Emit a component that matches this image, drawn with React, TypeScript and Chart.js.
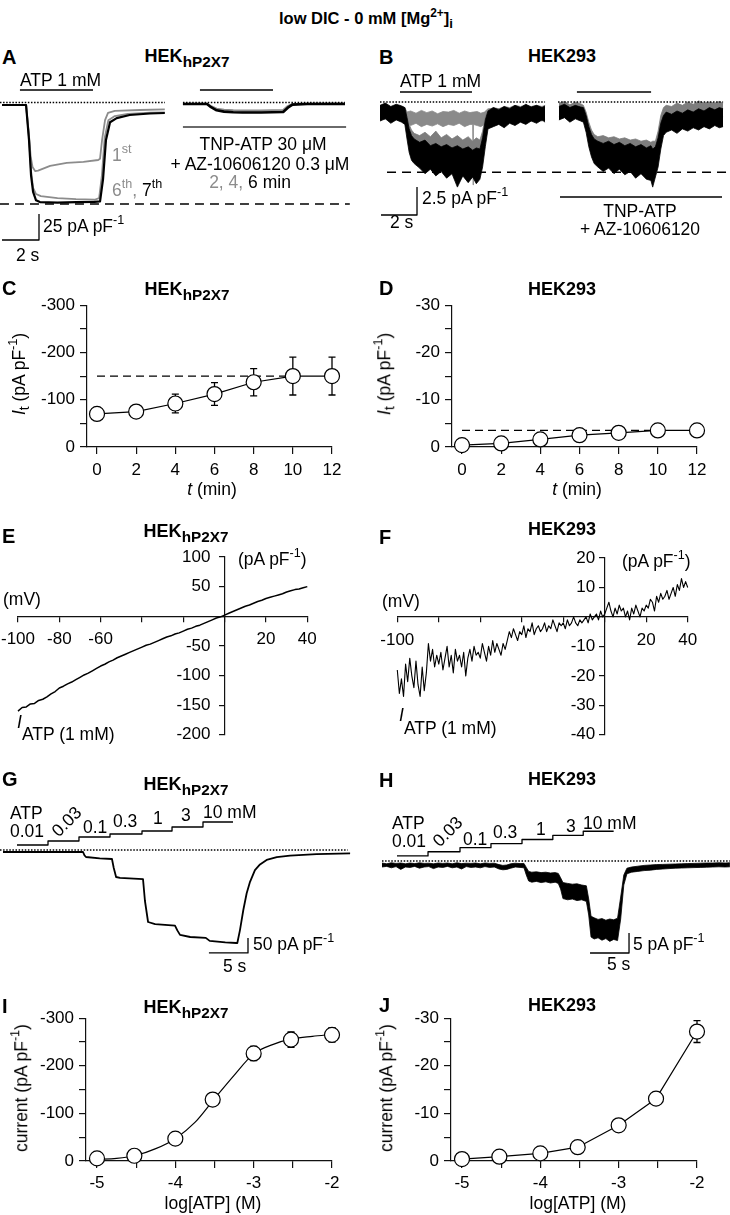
import React, { useEffect, useRef } from "react";
import { Chart, registerables } from "chart.js";

Chart.register(...registerables);
const FONT = "'Liberation Sans', Arial, Helvetica, sans-serif";
Chart.defaults.font.family = FONT;
const GRAY = "#8c8c8c";
const INK = "#111";

// ================= DATA =================
// Panel A (HEK-hP2X7): time (s), current (pA/pF)
const aT1 = [0, 1.3, 1.45, 1.55, 1.65, 1.8, 1.95, 2.6, 3.5, 4.4, 5.2, 5.3, 5.41, 5.57, 5.73, 6.1, 7.46, 8.8];
const aI1 = [-2.4, -2.4, -30, -52, -62, -66, -65.5, -61, -58, -57, -55.3, -54, -36, -17, -10, -8, -7.2, -6.7];
const aT6 = [0, 1.3, 1.46, 1.57, 1.68, 1.84, 2.1, 3.0, 4.0, 5.0, 5.25, 5.4, 5.55, 5.75, 6.1, 6.8, 8.0, 8.8];
const aI6 = [-2.4, -2.4, -34, -66, -82, -88, -90, -92, -93, -93.5, -92, -70, -34, -17, -13, -11, -9.8, -9.4];
const aT7 = [0, 1.3, 1.46, 1.57, 1.68, 1.84, 2.05, 3.0, 4.0, 5.0, 5.3, 5.46, 5.62, 5.84, 6.2, 6.9, 8.0, 8.8];
const aI7 = [-2.4, -2.4, -36, -70, -86, -94, -95.7, -96.2, -95.8, -95.6, -95, -74, -36, -19, -15, -12, -10.6, -10.1];
const aTB = [9.78, 11.08, 11.3, 11.6, 12.0, 12.5, 13.0, 14.0, 15.2, 15.45, 15.7, 16.5, 18.54];
const aIBgray = [-1.2, -1.2, -3.5, -6, -7, -7.5, -7.8, -7.8, -7.2, -3.5, -1.5, -1.2, -1.1];
const aIBblack = [-1.4, -1.4, -4.5, -7.5, -8.8, -9.4, -9.6, -9.6, -9.2, -5, -2, -1.5, -1.4];
const aAtp = [0.97, 4.92];
const aAtp2 = [10.7, 14.65];
const aBarLevel = 12;
const aTnp = [9.78, 18.6];
const aTnpLevel = -23.6;
const aZero1 = [-0.11, 8.81];
const aZero2 = [9.78, 18.54];
const aMaxT = [-0.11, 18.8];
const aMaxI = -97.6;
const aScaleT = [0, 2];
const aScaleI = [-132.2, -107.2];

// Panel B (HEK293): noisy traces as envelopes (upper / lower)
const bT1 = [0, 0.3, 0.6, 0.9, 1.2, 1.38, 1.5, 1.62, 1.75, 1.9, 2.2, 2.5, 2.8, 3.1, 3.4, 3.7, 4.0, 4.3, 4.6, 4.9, 5.15, 5.35, 5.55, 5.7, 5.85, 6.0, 6.3, 6.6, 6.9, 7.2, 7.5, 7.8, 8.1, 8.4, 8.7, 9.0, 9.17];
const bU1 = [-0.3, -0.1, -0.4, -0.2, -0.35, -0.5, -1.4, -2.4, -3.0, -3.3, -3.6, -3.4, -3.9, -3.7, -4.0, -3.8, -4.1, -3.9, -4.2, -4.0, -4.3, -4.1, -4.2, -3.2, -1.6, -0.8, -0.5, -0.7, -0.4, -0.6, -0.3, -0.5, -0.2, -0.45, -0.3, -0.5, -0.35];
const bL1 = [-1.7, -1.5, -1.9, -1.6, -1.8, -2.0, -3.3, -4.5, -5.2, -5.5, -5.9, -6.4, -6.0, -6.6, -6.2, -6.8, -6.4, -7.6, -6.6, -7.2, -6.7, -7.3, -6.9, -5.8, -4.0, -2.4, -2.2, -2.0, -2.3, -1.9, -2.1, -1.8, -2.0, -1.7, -1.9, -1.6, -1.8];
const bGU1 = [-0.4, -0.3, -0.5, -0.3, -0.4, -0.5, -1.2, -2.0, -2.5, -2.8, -3.0, -2.7, -3.1, -2.6, -3.2, -2.9, -3.3, -3.0, -3.4, -3.1, -3.5, -3.2, -3.4, -2.6, -1.3, -0.7, -0.5, -0.6, -0.4, -0.5, -0.3, -0.4, -0.3, -0.4, -0.3, -0.4, -0.3];
const bGL1 = [-1.5, -1.4, -1.6, -1.5, -1.6, -1.7, -2.5, -3.6, -4.2, -4.5, -4.7, -4.5, -4.8, -4.6, -4.9, -4.7, -5.0, -4.8, -5.1, -4.9, -5.2, -5.0, -5.1, -4.4, -3.0, -1.9, -1.7, -1.8, -1.6, -1.7, -1.6, -1.7, -1.6, -1.7, -1.6, -1.7, -1.6];
const bFirstT = [0, 1.38, 1.5, 1.7, 2.0, 2.3, 2.6, 2.9, 3.2, 3.5, 3.8, 4.1, 4.4, 4.7, 5.0, 5.15, 5.17, 5.19, 5.4, 5.6, 5.8, 6.0, 9.17];
const bFirstU = [-0.4, -0.5, -0.9, -0.8, -1.0, -0.75, -0.95, -0.8, -1.05, -0.85, -0.9, -0.75, -1.0, -0.8, -0.95, -0.9, -0.9, -0.9, -0.85, -1.0, -0.9, -0.6, -0.5];
const bFirstL = [-1.5, -1.6, -1.9, -2.1, -1.9, -2.2, -2.0, -2.15, -1.95, -2.2, -2.0, -2.1, -1.9, -2.2, -2.0, -2.0, -7.4, -2.0, -2.1, -2.2, -2.0, -1.6, -1.5];
const bT2 = [9.94, 10.25, 10.55, 10.85, 11.15, 11.3, 11.45, 11.6, 11.75, 11.9, 12.1, 12.4, 12.7, 13.0, 13.3, 13.6, 13.9, 14.2, 14.5, 14.8, 15.05, 15.15, 15.3, 15.45, 15.6, 15.75, 15.9, 16.2, 16.5, 16.8, 17.1, 17.4, 17.7, 18.0, 18.3, 18.6, 18.85, 19.06];
const bU2 = [-0.4, -0.2, -0.5, -0.3, -0.45, -0.5, -1.2, -2.2, -2.9, -3.3, -3.5, -3.7, -3.5, -3.8, -3.6, -3.9, -3.7, -4.0, -3.8, -4.1, -3.9, -4.2, -4.0, -3.2, -1.9, -1.2, -0.9, -1.1, -0.8, -1.0, -0.7, -0.9, -0.6, -0.8, -0.5, -0.7, -0.5, -0.6];
const bL2 = [-1.6, -1.4, -1.8, -1.5, -1.7, -1.8, -2.7, -4.0, -4.9, -5.5, -5.8, -6.2, -5.9, -6.4, -6.0, -6.5, -6.2, -6.8, -6.4, -6.9, -7.0, -7.6, -6.7, -5.8, -4.2, -3.0, -2.7, -2.5, -2.8, -2.4, -2.6, -2.3, -2.5, -2.2, -2.4, -2.1, -2.3, -2.2];
const bGU2 = [-0.1, 0.05, -0.25, 0.0, -0.15, -0.3, -0.9, -1.8, -2.5, -2.9, -3.1, -3.0, -3.2, -3.1, -3.3, -3.2, -3.4, -3.3, -3.5, -3.4, -3.6, -3.5, -3.5, -2.6, -1.2, -0.5, -0.3, -0.4, -0.1, -0.3, 0.0, -0.2, 0.1, -0.1, 0.0, -0.1, 0.05, -0.1];
const bGL2 = [-1.3, -1.2, -1.4, -1.2, -1.3, -1.4, -2.2, -3.3, -4.0, -4.4, -4.6, -4.5, -4.7, -4.6, -4.8, -4.7, -4.9, -4.8, -5.0, -4.9, -5.1, -5.0, -5.0, -4.3, -2.8, -1.8, -1.5, -1.6, -1.4, -1.5, -1.3, -1.4, -1.2, -1.3, -1.2, -1.3, -1.2, -1.3];
const bZero1 = [0, 9.17];
const bZero2 = [9.89, 19.06];
const bMaxT = [0.39, 19.44];
const bMaxI = -6.28;
const bAtp = [1.11, 5.11];
const bAtp2 = [10.94, 15.06];
const bBarLevel = 0.89;
const bTnp = [10, 19];
const bTnpLevel = -8.48;
const bScaleT = [0.056, 2.056];
const bScaleI = [-10.09, -7.59];

// Panel C / D: t (min) vs It (pA/pF), mean and SEM
const cT = [0, 2, 4, 6, 8, 10, 12];
const cMean = [-70, -75, -92, -112, -137, -150, -150];
const cSem = [4, 4, 20, 24, 29, 40, 40];
const cRefT = [0, 9.8];
const cRef = -150;
const dMean = [-0.4, -0.76, -1.6, -2.5, -3.0, -3.5, -3.5];
const dSem = [0.1, 0.1, 0.2, 0.3, 0.3, 0.3, 0.3];
const dRefT = [0, 9.8];
const dRef = -3.5;
const cXTicks = [0, 2, 4, 6, 8, 10, 12];
const cYTicks = [-300, -250, -200, -150, -100, -50, 0];
const cYLabels = [-300, -200, -100, 0];
const dYTicks = [-30, -25, -20, -15, -10, -5, 0];
const dYLabels = [-30, -20, -10, 0];

// Panel E / F: I-V relations (mV, pA/pF)
const eV = [-100, -98, -96, -94, -92, -90, -88, -86, -84, -82, -80, -78, -76, -74, -72, -70, -68, -66, -64, -62, -60, -58, -56, -54, -52, -50, -48, -46, -44, -42, -40, -38, -36, -34, -32, -30, -28, -26, -24, -22, -20, -18, -16, -14, -12, -10, -8, -6, -4, -2, 0, 2, 4, 6, 8, 10, 12, 14, 16, 18, 20, 22, 24, 26, 28, 30, 32, 34, 36, 38, 40];
const eI = [-160, -154, -153, -148, -147, -142, -140, -136, -131, -127, -121, -118, -114, -111, -107, -103, -99, -96, -92, -88, -84, -81, -77, -74, -70, -67, -64, -61, -58, -55, -52, -49, -47, -44, -41, -38, -35, -33, -30, -28, -25, -22, -20, -17, -15, -12, -9, -6, -3, -1, 2, 5, 8, 11, 14, 17, 19, 22, 25, 27, 30, 32, 34, 36, 38, 41, 43, 45, 46, 48, 50];
const fV = [-100, -99, -98, -97, -96, -95, -94, -93, -92, -91, -90, -89, -88, -87, -86, -85, -84, -83, -82, -81, -80, -79, -78, -77, -76, -75, -74, -73, -72, -71, -70, -69, -68, -67, -66, -65, -64, -63, -62, -61, -60, -59, -58, -57, -56, -55, -54, -53, -52, -51, -50, -49, -48, -47, -46, -45, -44, -43, -42, -41, -40, -39, -38, -37, -36, -35, -34, -33, -32, -31, -30, -29, -28, -27, -26, -25, -24, -23, -22, -21, -20, -19, -18, -17, -16, -15, -14, -13, -12, -11, -10, -9, -8, -7, -6, -5, -4, -3, -2, -1, 0, 1, 2, 3, 4, 5, 6, 7, 8, 9, 10, 11, 12, 13, 14, 15, 16, 17, 18, 19, 20, 21, 22, 23, 24, 25, 26, 27, 28, 29, 30, 31, 32, 33, 34, 35, 36, 37, 38, 39, 40];
const fI = [
  -18, -26, -21, -27, -16, -22, -14, -20, -24, -15,
  -23, -27, -17, -25, -19, -9, -15, -11, -17, -13,
  -16, -12, -18, -14, -10, -17, -13, -19, -11, -15,
  -13, -17, -12, -20, -14, -11, -15, -10, -13, -12,
  -14, -9, -12, -15, -10, -13, -8, -12, -9, -11,
  -13, -9, -11, -8, -5, -7, -4, -6, -8, -5,
  -6, -3, -7, -4, -5, -2, -6, -4, -3, -5,
  -4, -2, -5, -3, -4, -1, -3, -5, -2, -3,
  -2, -4, -1, -3, -2, 0, -2, -3, -1, -2,
  -1, 0, -2, 1, -1, 0, 1, -1, 2, 0,
  1, 3, 5, 2, 0, 3, 1, 4, 2, 3,
  0, 2, -1, 3, 1, 4, 2, 0, 3, 2,
  4, 3, 6, 5, 2, 7, 5, 8, 6, 7,
  9, 6, 8, 10, 7, 11, 9, 13, 10, 12,
  10,
];
const eXTicks = [-100, -80, -60, -40, -20, 0, 20, 40];
const eXLabels = [-100, -80, -60, 20, 40];
const eYTicks = [-200, -150, -100, -50, 0, 50, 100];
const eYLabels = [-200, -150, -100, -50, 50, 100];
const fXLabels = [-100, 20, 40];
const fYTicks = [-40, -30, -20, -10, 0, 10, 20];
const fYLabels = [-40, -30, -20, -10, 10, 20];

// Panel G (HEK-hP2X7) concentration steps, time (s), current (pA/pF)
const gT = [0, 10.26, 10.45, 10.64, 12.4, 13.97, 14.2, 14.5, 15.0, 17.95, 18.2, 18.6, 19.5, 22.05, 22.35, 22.7, 24.0, 26.0, 26.25, 26.5, 28.5, 29.9, 30.04, 30.38, 30.81, 31.24, 31.67, 32.3, 32.95, 33.8, 35.1, 36.8, 40.2, 44.5];
const gI = [-6.7, -6.7, -18, -23.3, -28, -30, -60, -90, -93, -97, -170, -240, -247, -252, -268, -283, -290, -293, -298, -303, -308, -310, -310, -267, -200, -144, -106, -67, -48, -33, -24, -19, -14, -11];
const gStepT = [1.79, 5.77, 9.74, 13.72, 17.82, 21.67, 25.64, 29.49];
const gStepLv = [16.7, 30, 43.3, 53.3, 63.3, 76.7, 93.3];
const gZero = [-0.385, 44.2];
const gScaleT = [26.4, 31.41];
const gScaleI = [-343, -293];
const concLabels = ["0.01", "0.03", "0.1", "0.3", "1", "3", "10 mM"];

// Panel H (HEK293) noisy envelope
const hT = [0, 0.6, 1.2, 1.8, 2.4, 3.0, 3.6, 4.2, 4.8, 5.4, 6.0, 6.6, 7.2, 7.8, 8.4, 9.0, 9.6, 10.2, 10.8, 11.4, 12.0, 12.6, 13.2, 13.8, 14.4,
  15.0, 15.5, 16.0, 16.5, 17.1, 17.7, 18.2,
  18.5, 18.8, 19.2, 19.8, 20.4, 21.0, 21.6, 22.2, 22.6,
  22.9, 23.2, 23.8, 24.4, 25.0, 25.6, 26.2,
  26.5, 26.8, 27.2, 27.7, 28.2, 28.7, 29.2, 29.7, 30.2,
  30.6, 31.0, 31.4, 32.0, 32.8, 33.6, 34.4, 35.2, 36.0, 36.8, 37.6, 38.4, 39.2, 40.0, 40.8, 41.6, 42.4, 43.2, 44.0, 44.6];
const hU = [-0.5, -0.7, -0.45, -0.6, -0.5, -0.7, -0.5, -0.65, -0.45, -0.6, -0.55, -0.7, -0.5, -0.6, -0.5, -0.7, -0.45, -0.65, -0.55, -0.6, -0.5, -0.7, -0.5, -0.6, -0.55,
  -0.9, -1.1, -1.0, -0.7, -0.55, -0.65, -0.6,
  -1.6, -2.6, -2.8, -2.7, -2.9, -2.8, -3.0, -2.9, -3.1,
  -4.2, -5.4, -5.6, -5.8, -5.7, -6.0, -6.2,
  -9.5, -13.8, -14.2, -14.6, -14.4, -14.8, -14.5, -14.7, -14.3,
  -9.0, -3.5, -1.8, -1.5, -1.3, -1.1, -1.0, -0.9, -0.85, -0.8, -0.75, -0.7, -0.65, -0.6, -0.55, -0.5, -0.5, -0.45, -0.5, -0.45];
const hL = [-1.5, -1.35, -1.7, -1.4, -2.1, -1.5, -1.6, -1.35, -1.8, -1.5, -1.4, -1.9, -1.5, -1.6, -1.35, -1.7, -1.5, -2.0, -1.4, -1.6, -1.5, -1.7, -1.4, -1.6, -1.5,
  -2.0, -2.2, -2.1, -1.8, -1.5, -1.6, -1.7,
  -3.5, -5.0, -5.3, -5.1, -5.4, -5.2, -5.5, -5.3, -5.6,
  -7.0, -9.4, -9.7, -9.5, -9.9, -9.7, -10.1,
  -13.5, -19.0, -19.5, -19.2, -19.8, -19.4, -20.1, -19.6, -19.9,
  -14.5, -6.0, -3.2, -2.8, -2.6, -2.4, -2.3, -2.1, -2.0, -1.9, -1.8, -1.75, -1.7, -1.65, -1.6, -1.55, -1.5, -1.45, -1.5, -1.45];
const hStepT = [1.92, 5.9, 10.0, 13.97, 17.95, 21.9, 25.8, 29.7];
const hStepLv = [1.28, 2.31, 3.33, 4.36, 5.38, 6.41, 7.44];
const hZero = [0, 44.6];
const hScaleT = [26.67, 31.67];
const hScaleI = [-23, -18];

// Panel I / J: concentration-response, log[ATP] (M) vs current (pA/pF)
const iX = [-5, -4.523, -4, -3.523, -3, -2.523, -2];
const iMean = [-5.5, -11, -47, -129, -226, -255, -265];
const iSem = [1, 2, 4, 5, 15, 16, 15];
const iFitX = [-5, -4.75, -4.5, -4.25, -4, -3.75, -3.5, -3.25, -3, -2.75, -2.5, -2.25, -2];
const iFitY = [-3.4, -5.5, -12, -26, -47, -81, -131, -180, -225, -245, -257, -262, -266];
const jMean = [-0.4, -0.9, -1.6, -2.9, -7.5, -13.1, -27.2];
const jSem = [0.1, 0.1, 0.2, 0.2, 0.5, 0.5, 2.3];
const iXTicks = [-5, -4.5, -4, -3.5, -3, -2.5, -2];
const iXLabels = [-5, -4, -3, -2];

// ================= HELPERS =================
const xy = (xs: number[], ys: number[]) => xs.map((x, i) => ({ x, y: ys[i] }));
const hseg = (xs: number[], y: number) => [{ x: xs[0], y }, { x: xs[1], y }];
const stairs = (ts: number[], lv: number[]) => {
  const p: any[] = [];
  lv.forEach((v, i) => { p.push({ x: ts[i], y: v }, { x: ts[i + 1], y: v }); });
  return p;
};
const scaleBar = (ts: number[], is: number[]) => [{ x: ts[0], y: is[0] }, { x: ts[1], y: is[0] }, { x: ts[1], y: is[1] }];

function line(data: any[], color = "#000", width = 1.2, extra: any = {}) {
  return { data, borderColor: color, backgroundColor: color, borderWidth: width, pointRadius: 0, pointHoverRadius: 0, fill: false, tension: 0, clip: false, borderJoinStyle: "round", ...extra };
}
function band(ts: number[], up: number[], lo: number[], color: string, order: number) {
  return [
    line(xy(ts, up), color, 0.8, { order }),
    line(xy(ts, lo), color, 0.8, { order, fill: "-1", backgroundColor: color }),
  ];
}
function errBars(xs: number[], ms: number[], es: number[], cap: number) {
  const p: any[] = [];
  xs.forEach((x, i) => {
    const lo = ms[i] - es[i], hi = ms[i] + es[i];
    p.push({ x, y: lo }, { x, y: hi }, { x, y: null },
      { x: x - cap, y: lo }, { x: x + cap, y: lo }, { x, y: null },
      { x: x - cap, y: hi }, { x: x + cap, y: hi }, { x, y: null });
  });
  return p;
}
const circles = (data: any[]) => ({ data, showLine: false, pointRadius: 7.5, pointHoverRadius: 7.5, pointBackgroundColor: "#fff", pointBorderColor: "#000", pointBorderWidth: 1.2, clip: false, order: 0 });

type Rect = { left: number; top: number; width: number; height: number };
const baseOpts = { animation: false, responsive: false, maintainAspectRatio: false, events: [], plugins: { legend: { display: false }, tooltip: { enabled: false } } };

function traceConfig(r: Rect, m: { x0: number; sx: number; y0: number; sy: number }, datasets: any[]) {
  return {
    type: "line",
    data: { datasets },
    options: {
      ...baseOpts,
      layout: { padding: 0 },
      scales: {
        x: { type: "linear", display: false, min: (r.left - m.x0) / m.sx, max: (r.left + r.width - m.x0) / m.sx },
        y: { type: "linear", display: false, min: (m.y0 - r.top - r.height) / m.sy, max: (m.y0 - r.top) / m.sy },
      },
    },
  };
}

// gap: trailing non-breaking spaces to keep labels of axes crossing at zero clear of the tick marks
function ax(position: any, min: number, max: number, tickVals: number[], labelVals: number[], tickLen: number, pad: number, extra: any = {}, gap = "") {
  return {
    type: "linear", position, min, max,
    afterBuildTicks: (s: any) => { s.ticks = tickVals.map((v) => ({ value: v })); },
    ticks: { autoSkip: false, maxRotation: 0, minRotation: 0, padding: pad, color: "#000", font: { family: FONT, size: 17 },
      callback: (v: any) => (labelVals.includes(Number(v)) ? String(v) + gap : "") },
    grid: { drawOnChartArea: false, drawTicks: true, tickLength: tickLen, color: INK, lineWidth: 1.2 },
    border: { display: true, color: INK, width: 1.2 },
    ...extra,
  };
}

function plotConfig(r: Rect, area: { left: number; top: number; right: number; bottom: number }, x: any, y: any, datasets: any[]) {
  return {
    type: "line",
    data: { datasets },
    options: {
      ...baseOpts,
      layout: { padding: { left: 0, top: area.top - r.top, right: r.left + r.width - area.right, bottom: 0 } },
      scales: {
        x: { ...x, afterFit: (s: any) => { s.height = r.top + r.height - area.bottom; } },
        y: { ...y, afterFit: (s: any) => { s.width = area.left - r.left; } },
      },
    },
  };
}

function crossConfig(r: Rect, area: { left: number; top: number; right: number; bottom: number }, x: any, y: any, datasets: any[]) {
  return {
    type: "line",
    data: { datasets },
    options: {
      ...baseOpts,
      layout: { padding: { left: area.left - r.left, top: area.top - r.top, right: r.left + r.width - area.right, bottom: r.top + r.height - area.bottom } },
      scales: { x, y },
    },
  };
}

// ================= PANEL CONFIGS =================
const rA: Rect = { left: 0, top: 70, width: 360, height: 190 };
const rB: Rect = { left: 370, top: 70, width: 360, height: 180 };
const rC: Rect = { left: 0, top: 290, width: 350, height: 200 };
const rD: Rect = { left: 365, top: 290, width: 350, height: 200 };
const rE: Rect = { left: -30, top: 530, width: 375, height: 225 };
const rF: Rect = { left: 350, top: 530, width: 380, height: 225 };
const rG: Rect = { left: 0, top: 795, width: 360, height: 180 };
const rH: Rect = { left: 370, top: 800, width: 360, height: 175 };
const rI: Rect = { left: 0, top: 1003, width: 350, height: 195 };
const rJ: Rect = { left: 365, top: 1003, width: 350, height: 195 };

const NB3 = "\u00a0\u00a0\u00a0";
const NB2 = "\u00a0\u00a0";

const makeA = () => traceConfig(rA, { x0: 2, sx: 18.5, y0: 102.5, sy: 1.04 }, [
  line(scaleBar(aScaleT, aScaleI), "#000", 1.3, { order: 0 }),
  line(hseg(aAtp, aBarLevel), "#000", 1.4, { order: 0 }),
  line(hseg(aAtp2, aBarLevel), "#000", 1.4, { order: 0 }),
  line(hseg(aTnp, aTnpLevel), "#6a6a6a", 2, { order: 0 }),
  line(hseg(aZero1, 0), "#000", 1.5, { order: 0, borderDash: [1.5, 1.6], borderJoinStyle: "miter" }),
  line(hseg(aZero2, 0), "#000", 1.5, { order: 0, borderDash: [1.5, 1.6], borderJoinStyle: "miter" }),
  line(hseg(aMaxT, aMaxI), "#000", 1.5, { order: 0, borderDash: [9, 6] }),
  line(xy(aT7, aI7), "#000", 2.2, { order: 1 }),
  line(xy(aTB, aIBblack), "#000", 2.6, { order: 1 }),
  line(xy(aT6, aI6), GRAY, 1.8, { order: 2 }),
  line(xy(aTB, aIBgray), GRAY, 2.2, { order: 2 }),
  line(xy(aT1, aI1), GRAY, 1.8, { order: 2 }),
]);

const makeB = () => traceConfig(rB, { x0: 380, sx: 18, y0: 102, sy: 11.2 }, [
  line(scaleBar(bScaleT, bScaleI), "#000", 1.3, { order: 0 }),
  line(hseg(bAtp, bBarLevel), "#000", 1.4, { order: 0 }),
  line(hseg(bAtp2, bBarLevel), "#000", 1.4, { order: 0 }),
  line(hseg(bTnp, bTnpLevel), "#000", 1.3, { order: 0 }),
  line(hseg(bZero1, 0), "#000", 1.5, { order: 0, borderDash: [1.5, 1.6] }),
  line(hseg(bZero2, 0), "#000", 1.5, { order: 0, borderDash: [1.5, 1.6] }),
  line(hseg(bMaxT, bMaxI), "#000", 1.5, { order: 0, borderDash: [9, 6] }),
  ...band(bT1, bU1, bL1, "#000", 2),
  ...band(bT2, bU2, bL2, "#000", 2),
  ...band(bT1, bGU1, bGL1, "#7d7d7d", 4),
  ...band(bT2, bGU2, bGL2, "#7d7d7d", 4),
  ...band(bFirstT, bFirstU, bFirstL, "#8a8a8a", 5),
]);

const makeC = () => plotConfig(rC, { left: 87, top: 303, right: 332, bottom: 447 },
  ax("bottom", -0.511, 12, cXTicks, cXTicks, 7, 6),
  ax("left", -300, 0, cYTicks, cYLabels, 7, 5, { reverse: true }),
  [
    circles(xy(cT, cMean)),
    line(errBars(cT, cMean, cSem, 0.18), "#000", 1.3, { order: 1 }),
    line(xy(cT, cMean), "#000", 1.2, { order: 2 }),
    line(hseg(cRefT, cRef), "#000", 1.3, { order: 3, borderDash: [8, 5] }),
  ]);

const makeD = () => plotConfig(rD, { left: 452, top: 303, right: 697, bottom: 447 },
  ax("bottom", -0.511, 12, cXTicks, cXTicks, 7, 6),
  ax("left", -30, 0, dYTicks, dYLabels, 7, 5, { reverse: true }),
  [
    circles(xy(cT, dMean)),
    line(errBars(cT, dMean, dSem, 0.18), "#000", 1.3, { order: 1 }),
    line(xy(cT, dMean), "#000", 1.2, { order: 2 }),
    line(hseg(dRefT, dRef), "#000", 1.3, { order: 3, borderDash: [8, 5] }),
  ]);

const makeE = () => crossConfig(rE, { left: 18, top: 557, right: 307.3, bottom: 738.5 },
  ax({ y: 0 }, -100, 40, eXTicks, eXLabels, 5, 8),
  ax({ x: 0 }, -200, 100, eYTicks, eYLabels, 5, 10, {}, NB3),
  [line(xy(eV, eI), "#000", 1.5)]);

const makeF = () => crossConfig(rF, { left: 397.3, top: 558, right: 687.7, bottom: 738.3 },
  ax({ y: 0 }, -100, 40, eXTicks, fXLabels, 5, 8),
  ax({ x: 0 }, -40, 20, fYTicks, fYLabels, 5, 10, {}, NB2),
  [line(xy(fV, fI), "#000", 1.1)]);

const makeG = () => traceConfig(rG, { x0: 3, sx: 7.8, y0: 850, sy: 0.3 }, [
  line(scaleBar(gScaleT, gScaleI), "#000", 1.3),
  line(stairs(gStepT, gStepLv), "#000", 1.3),
  line(hseg(gZero, 0), "#000", 1.5, { borderDash: [1.5, 1.6] }),
  line(xy(gT, gI), "#000", 1.8),
]);

const makeH = () => traceConfig(rH, { x0: 382, sx: 7.8, y0: 861, sy: 4 }, [
  line(scaleBar(hScaleT, hScaleI), "#000", 1.3, { order: 0 }),
  line(stairs(hStepT, hStepLv), "#000", 1.3, { order: 0 }),
  line(hseg(hZero, 0), "#000", 1.5, { order: 0, borderDash: [1.5, 1.6] }),
  ...band(hT, hU, hL, "#000", 2),
]);

const makeI = () => plotConfig(rI, { left: 86, top: 1015, right: 332, bottom: 1161 },
  ax("bottom", -5.1404, -2, iXTicks, iXLabels, 7, 5),
  ax("left", -300, 0, cYTicks, cYLabels, 7, 5, { reverse: true }),
  [
    circles(xy(iX, iMean)),
    line(errBars(iX, iMean, iSem, 0.045), "#000", 1.3, { order: 1 }),
    line(xy(iFitX, iFitY), "#000", 1.2, { order: 2, cubicInterpolationMode: "monotone" }),
  ]);

const makeJ = () => plotConfig(rJ, { left: 451, top: 1015, right: 697, bottom: 1161 },
  ax("bottom", -5.1404, -2, iXTicks, iXLabels, 7, 5),
  ax("left", -30, 0, dYTicks, dYLabels, 7, 5, { reverse: true }),
  [
    circles(xy(iX, jMean)),
    line(errBars(iX, jMean, jSem, 0.045), "#000", 1.3, { order: 1 }),
    line(xy(iX, jMean), "#000", 1.2, { order: 2 }),
  ]);

// ================= COMPONENTS =================
function ChartCanvas({ r, make }: { r: Rect; make: () => any }) {
  const ref = useRef<HTMLCanvasElement>(null);
  useEffect(() => {
    const c = new Chart(ref.current as HTMLCanvasElement, make());
    return () => c.destroy();
  }, []);
  return <canvas ref={ref} width={r.width} height={r.height} style={{ position: "absolute", left: r.left, top: r.top, width: r.width, height: r.height }} />;
}

const Sup = ({ children }: any) => <span style={{ fontSize: "0.72em", position: "relative", top: "-0.6em" }}>{children}</span>;
const Sub = ({ children, s = 0.8 }: any) => <span style={{ fontSize: s + "em", position: "relative", top: "0.32em" }}>{children}</span>;

function T({ x, y, a = "l", s = 17.5, b = false, c = "#000", r = 0, children }: any) {
  const tx = a === "c" ? "-50%" : a === "r" ? "-100%" : "0%";
  return (
    <div style={{ position: "absolute", left: x, top: y, transform: `translate(${tx}, -50%) rotate(${r}deg)`, fontSize: s, fontWeight: b ? 700 : 400, color: c, whiteSpace: "nowrap", lineHeight: 1, fontFamily: FONT }}>
      {children}
    </div>
  );
}

const Hek7 = ({ x, y }: any) => <T x={x} y={y} a="c" s={18} b>HEK<Sub s={0.85}>hP2X7</Sub></T>;
const Hek293 = ({ x, y }: any) => <T x={x} y={y} a="c" s={18} b>HEK293</T>;
const Letter = ({ x, y, t }: any) => <T x={x} y={y} s={20} b>{t}</T>;
const PApF = () => <>pA pF<Sup>-1</Sup></>;

const gLabelPos = [[10, 832], [67, 822], [83, 828], [113, 822], [153, 819], [181, 816], [203, 812.5]];
const hLabelPos = [[392, 842], [448, 832], [463, 840], [493, 833], [536, 830], [566, 827], [583, 824]];

export default function App() {
  return (
    <div style={{ position: "absolute", left: 0, top: 0, width: 730, height: 1215, background: "#fff", overflow: "hidden", fontFamily: FONT }}>
      <ChartCanvas r={rA} make={makeA} />
      <ChartCanvas r={rB} make={makeB} />
      <ChartCanvas r={rC} make={makeC} />
      <ChartCanvas r={rD} make={makeD} />
      <ChartCanvas r={rE} make={makeE} />
      <ChartCanvas r={rF} make={makeF} />
      <ChartCanvas r={rG} make={makeG} />
      <ChartCanvas r={rH} make={makeH} />
      <ChartCanvas r={rI} make={makeI} />
      <ChartCanvas r={rJ} make={makeJ} />

      <T x={366} y={18} a="c" s={16.5} b>low DIC - 0 mM [Mg<Sup>2+</Sup>]<Sub>i</Sub></T>

      {/* A */}
      <Letter x={2} y={57} t="A" />
      <Hek7 x={187} y={56} />
      <T x={20} y={81}>ATP 1 mM</T>
      <T x={112} y={156} c={GRAY}>1<Sup>st</Sup></T>
      <T x={112} y={191}><span style={{ color: GRAY }}>6<Sup>th</Sup>, </span>7<Sup>th</Sup></T>
      <T x={263} y={145} a="c">TNP-ATP 30 μM</T>
      <T x={260} y={165} a="c">+ AZ-10606120 0.3 μM</T>
      <T x={250} y={183} a="c"><span style={{ color: GRAY }}>2, 4,</span> 6 min</T>
      <T x={43} y={227}>25 <PApF /></T>
      <T x={16} y={256}>2 s</T>

      {/* B */}
      <Letter x={379} y={57} t="B" />
      <Hek293 x={562} y={56} />
      <T x={400} y={82}>ATP 1 mM</T>
      <T x={422} y={199}>2.5 <PApF /></T>
      <T x={390} y={223}>2 s</T>
      <T x={640} y={212} a="c">TNP-ATP</T>
      <T x={640} y={230} a="c">+ AZ-10606120</T>

      {/* C */}
      <Letter x={2} y={288} t="C" />
      <Hek7 x={187} y={289} />
      <T x={20} y={374} a="c" r={-90}><i>I</i><Sub>t</Sub> (<PApF />)</T>
      <T x={212} y={490} a="c"><i>t</i> (min)</T>

      {/* D */}
      <Letter x={379} y={288} t="D" />
      <Hek293 x={562} y={289} />
      <T x={385} y={374} a="c" r={-90}><i>I</i><Sub>t</Sub> (<PApF />)</T>
      <T x={577} y={490} a="c"><i>t</i> (min)</T>

      {/* E */}
      <Letter x={2} y={536} t="E" />
      <Hek7 x={186} y={531} />
      <T x={3} y={600}>(mV)</T>
      <T x={238} y={560}>(<PApF />)</T>
      <T x={17} y={735}><i style={{ position: "relative", top: -12 }}>I</i>ATP (1 mM)</T>

      {/* F */}
      <Letter x={379} y={537} t="F" />
      <Hek293 x={562} y={529} />
      <T x={382} y={602}>(mV)</T>
      <T x={622} y={562}>(<PApF />)</T>
      <T x={399} y={729}><i style={{ position: "relative", top: -13 }}>I</i>ATP (1 mM)</T>

      {/* G */}
      <Letter x={2} y={779} t="G" />
      <Hek7 x={186} y={784} />
      <T x={10} y={814}>ATP</T>
      {concLabels.map((t, i) => (
        <T key={"g" + i} x={gLabelPos[i][0]} y={gLabelPos[i][1]} a={i === 1 ? "c" : "l"} r={i === 1 ? -45 : 0}>{t}</T>
      ))}
      <T x={253} y={945}>50 <PApF /></T>
      <T x={223} y={967}>5 s</T>

      {/* H */}
      <Letter x={379} y={780} t="H" />
      <Hek293 x={562} y={779} />
      <T x={392} y={823.5}>ATP</T>
      {concLabels.map((t, i) => (
        <T key={"h" + i} x={hLabelPos[i][0]} y={hLabelPos[i][1]} a={i === 1 ? "c" : "l"} r={i === 1 ? -45 : 0}>{t}</T>
      ))}
      <T x={633} y={945}>5 <PApF /></T>
      <T x={607} y={965}>5 s</T>

      {/* I */}
      <Letter x={2} y={1006} t="I" />
      <Hek7 x={186} y={1007} />
      <T x={22} y={1088} a="c" r={-90}>current (<PApF />)</T>
      <T x={213} y={1204} a="c">log[ATP] (M)</T>

      {/* J */}
      <Letter x={379} y={1005} t="J" />
      <Hek293 x={562} y={1005} />
      <T x={387} y={1088} a="c" r={-90}>current (<PApF />)</T>
      <T x={578} y={1204} a="c">log[ATP] (M)</T>
    </div>
  );
}
